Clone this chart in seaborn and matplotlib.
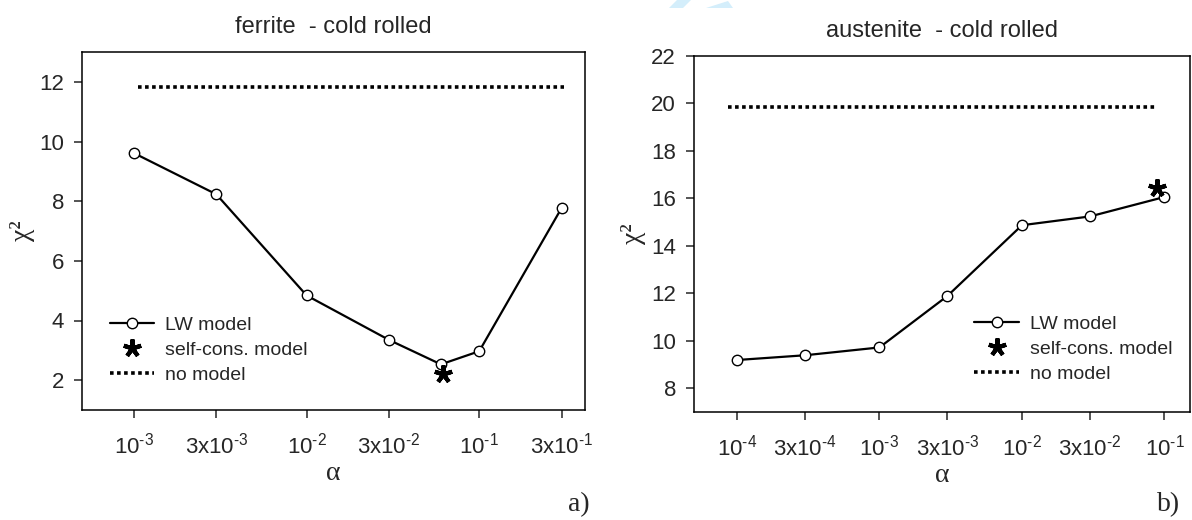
import matplotlib
matplotlib.use("Agg")
import matplotlib.pyplot as plt
from matplotlib.lines import Line2D
from matplotlib.patches import Polygon
import seaborn as sns
import pandas as pd

# ---- data ----
ferrite_alpha = [1e-3, 3e-3, 1e-2, 3e-2, 6e-2, 1e-1, 3e-1]
ferrite_chi2 = [9.61, 8.23, 4.84, 3.35, 2.53, 2.97, 7.77]
ferrite_sc_alpha = [6.2e-2]
ferrite_sc_chi2 = [2.22]
ferrite_nomodel_alpha = [1.05e-3, 3.1e-1]
ferrite_nomodel_chi2 = [11.83, 11.83]
ferrite_ticks = [1e-3, 3e-3, 1e-2, 3e-2, 1e-1, 3e-1]
ferrite_ticklabels = [r"$\mathregular{10^{\text{-}3}}$", r"$\mathregular{3x10^{\text{-}3}}$",
                      r"$\mathregular{10^{\text{-}2}}$", r"$\mathregular{3x10^{\text{-}2}}$",
                      r"$\mathregular{10^{\text{-}1}}$", r"$\mathregular{3x10^{\text{-}1}}$"]

aust_alpha = [1e-4, 3e-4, 1e-3, 3e-3, 1e-2, 3e-2, 1e-1]
aust_chi2 = [9.19, 9.39, 9.72, 11.89, 14.87, 15.24, 16.06]
aust_sc_alpha = [8.8e-2]
aust_sc_chi2 = [16.42]
aust_nomodel_alpha = [8.7e-5, 8.8e-2]
aust_nomodel_chi2 = [19.87, 19.87]
aust_ticks = [1e-4, 3e-4, 1e-3, 3e-3, 1e-2, 3e-2, 1e-1]
aust_ticklabels = [r"$\mathregular{10^{\text{-}4}}$", r"$\mathregular{3x10^{\text{-}4}}$",
                   r"$\mathregular{10^{\text{-}3}}$", r"$\mathregular{3x10^{\text{-}3}}$",
                   r"$\mathregular{10^{\text{-}2}}$", r"$\mathregular{3x10^{\text{-}2}}$",
                   r"$\mathregular{10^{\text{-}1}}$"]

sns.set_style("ticks")
plt.rcParams["font.family"] = ["Liberation Sans", "DejaVu Sans"]
plt.rcParams["mathtext.fontset"] = "custom"
plt.rcParams["mathtext.rm"] = "Liberation Sans"
plt.rcParams["mathtext.it"] = "Liberation Sans:italic"
plt.rcParams["mathtext.bf"] = "Liberation Sans:bold"

W, H = 1192, 520
fig = plt.figure(figsize=(W / 100, H / 100), dpi=100)

ax1 = fig.add_axes([82 / W, (H - 410) / H, 503 / W, 358 / H])
ax2 = fig.add_axes([694 / W, (H - 412) / H, 496 / W, 356 / H])

SERIF = ["Liberation Serif", "DejaVu Serif"]
DOT = (0, (1, 0.95))


def panel(ax, a, c, sa, sc, na, nc, ticks, labels, xlim, ylim, yticks, title,
          leg_anchor, ylabelpad):
    df = pd.DataFrame({"alpha": a, "chi2": c})
    sns.lineplot(data=df, x="alpha", y="chi2", ax=ax, color="black", lw=1.6,
                 marker="o", markersize=7.5, markerfacecolor="white",
                 markeredgecolor="black", markeredgewidth=1.0, zorder=3)
    dn = pd.DataFrame({"alpha": na, "chi2": nc})
    sns.lineplot(data=dn, x="alpha", y="chi2", ax=ax, color="black", lw=2.6,
                 linestyle=DOT, dash_capstyle="butt", zorder=2)
    ax.plot(sa, sc, linestyle="none", marker=(5, 2, 0), markersize=13,
            markeredgewidth=3.0, color="black", zorder=4)
    ax.set_xscale("log")
    ax.set_xlim(*xlim)
    ax.set_ylim(*ylim)
    ax.minorticks_off()
    ax.set_xticks(ticks)
    ax.set_xticklabels(labels)
    ax.set_yticks(yticks)
    ax.tick_params(axis="x", which="both", length=6, width=1.1, pad=10,
                   labelsize=16, direction="out")
    ax.tick_params(axis="y", length=6, width=1.1, pad=7, labelsize=16,
                   direction="out")
    for s in ax.spines.values():
        s.set_linewidth(1.1)
        s.set_color("black")
    ax.set_xlabel("α", family=SERIF, fontsize=20, labelpad=2)
    ax.set_ylabel("χ²", family=SERIF, fontsize=20, labelpad=ylabelpad)
    ax.set_title(title, fontsize=17, pad=14)
    handles = [
        Line2D([], [], color="black", lw=1.6, marker="o", markersize=7.5,
               markerfacecolor="white", markeredgecolor="black",
               markeredgewidth=1.0),
        Line2D([], [], linestyle="none", marker=(5, 2, 0), markersize=13,
               markeredgewidth=3.0, color="black"),
        Line2D([], [], color="black", lw=2.6, linestyle=DOT,
               dash_capstyle="butt"),
    ]
    ax.legend(handles, ["LW model", "self-cons. model", "no model"],
              loc="upper left", bbox_to_anchor=leg_anchor, frameon=False,
              fontsize=14, borderpad=0, borderaxespad=0, handlelength=2.3,
              handletextpad=0.55, labelspacing=0.38)


panel(ax1, ferrite_alpha, ferrite_chi2, ferrite_sc_alpha, ferrite_sc_chi2,
      ferrite_nomodel_alpha, ferrite_nomodel_chi2, ferrite_ticks,
      ferrite_ticklabels, (5.0e-4, 0.41), (1, 13), [2, 4, 6, 8, 10, 12],
      "ferrite  - cold rolled", (0.055, 0.262), 3)
panel(ax2, aust_alpha, aust_chi2, aust_sc_alpha, aust_sc_chi2,
      aust_nomodel_alpha, aust_nomodel_chi2, aust_ticks, aust_ticklabels,
      (5.0e-5, 0.151), (7, 22), [8, 10, 12, 14, 16, 18, 20, 22],
      "austenite  - cold rolled", (0.565, 0.272), 4)

fig.text(590 / W, 1 - 511 / H, "a)", family=SERIF, fontsize=20,
         ha="right", va="baseline")
fig.text(1180 / W, 1 - 511 / H, "b)", family=SERIF, fontsize=20,
         ha="right", va="baseline")

# faint watermark fragments at top edge
for pts in ([(677, 0), (691, 0), (683, 8), (669, 8)],
            [(706, 8), (728, 1), (733, 8)]):
    fig.patches.append(Polygon([(x / W, 1 - y / H) for x, y in pts],
                               closed=True, transform=fig.transFigure,
                               facecolor="#d4eefb", edgecolor="none"))

fig.savefig("out.png", dpi=100)
